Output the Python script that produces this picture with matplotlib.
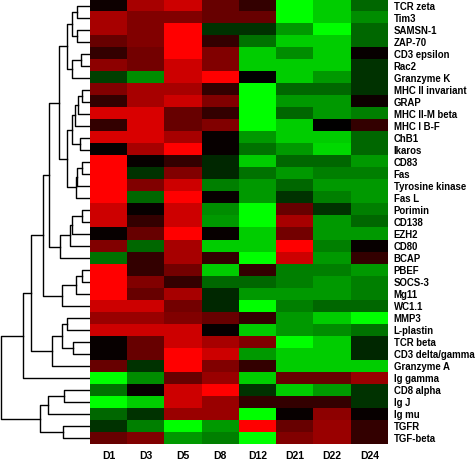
import numpy as np
import matplotlib.pyplot as plt
from matplotlib.colors import LinearSegmentedColormap

plt.rcParams['font.family'] = ['Liberation Sans', 'DejaVu Sans']

days = ['D1', 'D3', 'D5', 'D8', 'D12', 'D21', 'D22', 'D24']

genes = ['TCR zeta', 'Tim3', 'SAMSN-1', 'ZAP-70', 'CD3 epsilon', 'Rac2',
         'Granzyme K', 'MHC II invariant', 'GRAP', 'MHC II-M beta', 'MHC I B-F',
         'ChB1', 'Ikaros', 'CD83', 'Fas', 'Tyrosine kinase', 'Fas L', 'Porimin',
         'CD138', 'EZH2', 'CD80', 'BCAP', 'PBEF', 'SOCS-3', 'Mg11', 'WC1.1',
         'MMP3', 'L-plastin', 'TCR beta', 'CD3 delta/gamma', 'Granzyme A',
         'Ig gamma', 'CD8 alpha', 'Ig J', 'Ig mu', 'TGFR', 'TGF-beta']

# red = up, green = down (-1..1)
expr = np.array([
    [0.05, 0.65, 0.8, 0.4, 0.2, -1.0, -0.8, -0.4],
    [0.65, 0.5, 0.5, 0.4, 0.4, -1.0, -0.8, -0.55],
    [0.65, 0.5, 1.0, -0.2, -0.2, -0.6, -1.0, -0.4],
    [0.4, 0.5, 1.0, 0.2, -0.45, -0.8, -0.8, -0.4],
    [0.2, 0.45, 1.0, 0.5, -0.8, -0.55, -0.8, 0.03],
    [0.55, 0.45, 0.8, 0.5, -0.8, -0.8, -0.8, -0.2],
    [-0.25, -0.55, 0.8, 1.0, 0.0, -0.8, -0.6, -0.2],
    [0.5, 0.65, 0.65, 0.2, -1.0, -0.4, -0.4, -0.2],
    [0.2, 0.65, 0.8, 0.5, -1.0, -0.6, -0.6, 0.05],
    [0.85, 0.85, 0.4, 0.2, -1.0, -0.4, -0.6, -0.5],
    [0.2, 0.85, 0.4, 0.5, -1.0, -0.8, 0.0, 0.2],
    [0.85, 0.85, 0.65, 0.03, -0.6, -0.8, -0.8, -0.4],
    [0.03, 0.65, 1.0, 0.03, -0.45, -0.6, -0.85, -0.4],
    [1.0, 0.03, 0.2, -0.15, -0.8, -0.4, -0.4, -0.6],
    [1.0, -0.2, 0.5, -0.15, -0.45, -0.6, -0.5, -0.5],
    [1.0, 0.5, 0.8, -0.5, -0.6, -0.4, -0.6, -0.6],
    [1.0, -0.4, 1.0, 0.03, -0.6, -0.2, -0.5, -0.6],
    [0.8, 0.03, 0.8, -0.55, -1.0, 0.4, -0.2, -0.5],
    [0.8, 0.2, 0.8, -0.6, -1.0, 0.65, -0.6, -0.4],
    [0.03, 0.4, 1.0, 0.03, -0.8, 0.45, -0.6, -0.6],
    [0.5, -0.4, 0.65, -0.8, -0.8, 1.0, -0.5, 0.03],
    [-0.45, 0.2, 0.65, 0.2, -1.0, 0.8, -0.6, 0.2],
    [1.0, 0.2, 0.45, -0.8, 0.2, -0.5, -0.5, -0.6],
    [1.0, 0.5, 0.2, -0.4, -0.4, -0.5, -0.6, -0.5],
    [1.0, 0.4, 0.65, -0.15, -0.6, -0.6, -0.6, -0.5],
    [0.8, 0.8, 0.45, -0.15, -1.0, -0.5, -0.4, -0.4],
    [0.6, 0.6, 0.5, 0.4, 0.2, -0.6, -0.8, -1.0],
    [0.8, 0.8, 0.8, 0.03, -0.8, -0.6, -0.55, -0.45],
    [0.03, 0.4, 0.8, 0.65, 0.5, -1.0, -0.8, -0.15],
    [0.03, 0.4, 1.0, 0.8, -0.6, -0.8, -0.8, -0.15],
    [0.4, -0.2, 1.0, 0.5, 0.2, -0.8, -0.8, -0.8],
    [-1.0, -0.55, 0.4, 0.6, -0.8, 0.4, 0.4, 0.6],
    [-0.45, 0.03, 0.8, 1.0, -0.2, -0.8, -0.6, -0.2],
    [-1.0, -0.8, 0.8, 0.6, 0.2, 0.2, 0.2, -0.2],
    [-0.4, -0.2, 0.6, 0.6, -1.0, 0.03, 0.55, 0.03],
    [-0.2, -0.5, -1.0, -0.6, 1.0, 0.4, 0.6, 0.2],
    [0.4, 0.5, -0.6, -0.5, -1.0, 0.5, 0.6, 0.2],
])

# dendrogram merges: (name, left, right, height)
merges = [
    ('a', 0, 1, 13), ('b', 2, 3, 13), ('c', 'a', 'b', 18),
    ('d', 4, 5, 9), ('e', 'd', 6, 18), ('f', 'c', 'e', 23),
    ('g', 7, 8, 8), ('h', 'g', 9, 12), ('i', 'h', 10, 15),
    ('j', 11, 12, 10), ('k', 'i', 'j', 18),
    ('l', 13, 14, 8), ('m', 'l', 15, 13), ('n', 'm', 16, 14),
    ('o', 'k', 'n', 23), ('p', 'f', 'o', 31),
    ('q', 17, 18, 8), ('r', 'q', 19, 18), ('s', 'r', 20, 20), ('t', 's', 21, 30),
    ('u', 'p', 't', 41),
    ('v', 22, 23, 8), ('w', 'v', 24, 14), ('x', 'w', 25, 28),
    ('ux', 'u', 'x', 47),
    ('y', 26, 27, 23), ('z', 28, 29, 17), ('aa', 'y', 'z', 28), ('ab', 'aa', 30, 38),
    ('ad', 'ux', 'ab', 59), ('ae', 'ad', 31, 67),
    ('af', 32, 33, 26), ('ag', 'af', 34, 42), ('ah', 35, 36, 27), ('ai', 'ag', 'ah', 50),
    ('root', 'ae', 'ai', 89),
]

W, H = 475, 461
fig = plt.figure(figsize=(W / 100, H / 100), dpi=100)

top, bot = 0, 444
ax = fig.add_axes([90 / W, 1 - bot / H, 298 / W, (bot - top) / H])
cmap = LinearSegmentedColormap.from_list('gbr', [(0, 1, 0), (0, 0, 0), (1, 0, 0)])
ax.imshow(expr, cmap=cmap, vmin=-1, vmax=1, aspect='auto', interpolation='nearest')
ax.set_xticks(range(len(days)))
ax.set_xticklabels(days, fontsize=7.5, fontweight='bold')
ax.yaxis.tick_right()
ax.set_yticks(range(len(genes)))
ax.set_yticklabels(genes, fontsize=6.9, fontweight='bold')
ax.tick_params(axis='y', length=0, pad=4)
ax.tick_params(axis='x', length=0, pad=5)
for lab in ax.get_yticklabels():
    lab.set_verticalalignment('center_baseline')
for s in ax.spines.values():
    s.set_visible(False)

# dendrogram
dax = fig.add_axes([0, 1 - bot / H, 90 / W, (bot - top) / H])
pos = {i: (float(i), 0.0) for i in range(len(genes))}
for name, l, r, h in merges:
    yl, hl = pos[l]
    yr, hr = pos[r]
    dax.plot([hl, h, h, hr], [yl, yl, yr, yr], color='black', lw=1)
    pos[name] = ((yl + yr) / 2, h)
dax.set_xlim(90, 0)
dax.set_ylim(len(genes) - 0.5, -0.5)
dax.axis('off')

fig.savefig('out.png', dpi=100)
